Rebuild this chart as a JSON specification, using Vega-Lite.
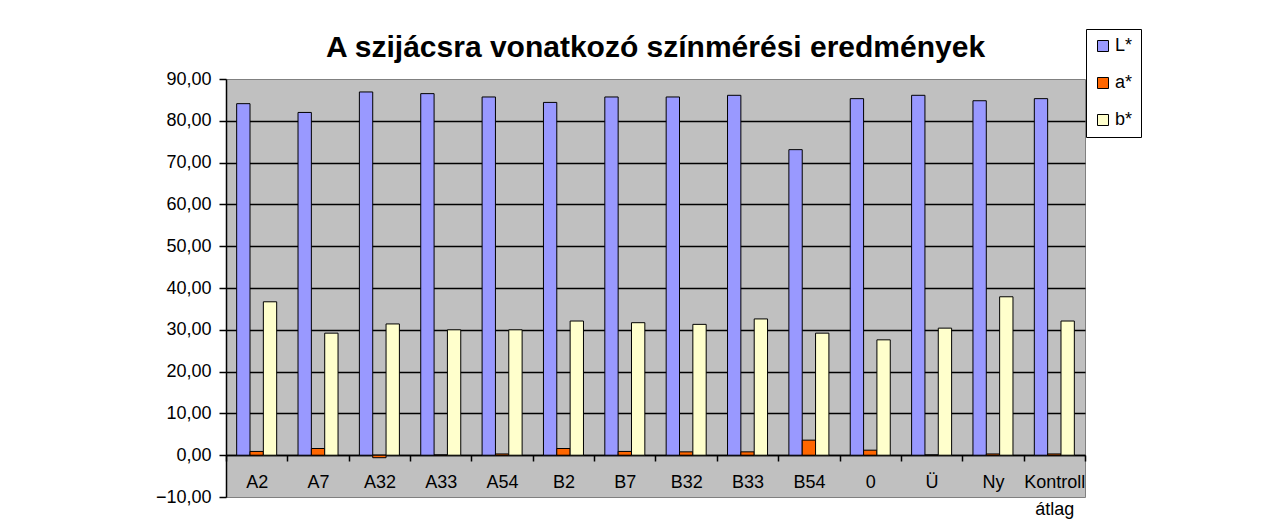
{
  "$schema": "https://vega.github.io/schema/vega-lite/v6.json",
  "width": 859,
  "height": 418,
  "autosize": {"type": "none"},
  "padding": {"left": 226, "top": 79, "right": 197, "bottom": 30},
  "background": "white",
  "title": {
    "text": "A szijácsra vonatkozó színmérési eredmények",
    "font": "Liberation Sans",
    "fontSize": 30,
    "fontWeight": "bold",
    "anchor": "middle",
    "frame": "group",
    "offset": 14,
    "dy": 48,
    "color": "#000000"
  },
  "data": {
    "values": [
      {"cat": "A2", "series": "L*", "value": 84.1},
      {"cat": "A7", "series": "L*", "value": 82.0},
      {"cat": "A32", "series": "L*", "value": 86.9},
      {"cat": "A33", "series": "L*", "value": 86.5},
      {"cat": "A54", "series": "L*", "value": 85.7},
      {"cat": "B2", "series": "L*", "value": 84.4},
      {"cat": "B7", "series": "L*", "value": 85.7},
      {"cat": "B32", "series": "L*", "value": 85.7},
      {"cat": "B33", "series": "L*", "value": 86.1},
      {"cat": "B54", "series": "L*", "value": 73.1},
      {"cat": "0", "series": "L*", "value": 85.3},
      {"cat": "Ü", "series": "L*", "value": 86.1},
      {"cat": "Ny", "series": "L*", "value": 84.8},
      {"cat": "Kontroll átlag", "series": "L*", "value": 85.3},
      {"cat": "A2", "series": "a*", "value": 0.9},
      {"cat": "A7", "series": "a*", "value": 1.6},
      {"cat": "A32", "series": "a*", "value": -0.6},
      {"cat": "A33", "series": "a*", "value": 0.05},
      {"cat": "A54", "series": "a*", "value": 0.3},
      {"cat": "B2", "series": "a*", "value": 1.6},
      {"cat": "B7", "series": "a*", "value": 0.9},
      {"cat": "B32", "series": "a*", "value": 0.8},
      {"cat": "B33", "series": "a*", "value": 0.8},
      {"cat": "B54", "series": "a*", "value": 3.6},
      {"cat": "0", "series": "a*", "value": 1.2},
      {"cat": "Ü", "series": "a*", "value": 0.05},
      {"cat": "Ny", "series": "a*", "value": 0.3},
      {"cat": "Kontroll átlag", "series": "a*", "value": 0.3},
      {"cat": "A2", "series": "b*", "value": 36.7},
      {"cat": "A7", "series": "b*", "value": 29.2},
      {"cat": "A32", "series": "b*", "value": 31.4},
      {"cat": "A33", "series": "b*", "value": 30.0},
      {"cat": "A54", "series": "b*", "value": 30.0},
      {"cat": "B2", "series": "b*", "value": 32.1},
      {"cat": "B7", "series": "b*", "value": 31.7},
      {"cat": "B32", "series": "b*", "value": 31.3},
      {"cat": "B33", "series": "b*", "value": 32.6},
      {"cat": "B54", "series": "b*", "value": 29.2},
      {"cat": "0", "series": "b*", "value": 27.6},
      {"cat": "Ü", "series": "b*", "value": 30.4},
      {"cat": "Ny", "series": "b*", "value": 37.9},
      {"cat": "Kontroll átlag", "series": "b*", "value": 32.1}
    ]
  },
  "mark": {"type": "bar", "stroke": "#000000", "strokeWidth": 1},
  "encoding": {
    "x": {
      "field": "cat",
      "type": "nominal",
      "sort": ["A2", "A7", "A32", "A33", "A54", "B2", "B7", "B32", "B33", "B54", "0", "Ü", "Ny", "Kontroll átlag"],
      "scale": {"paddingInner": 0, "paddingOuter": 0},
      "axis": {
        "title": null,
        "orient": "bottom",
        "offset": -42,
        "labelAngle": 0,
        "labelFontSize": 18,
        "labelColor": "#000000",
        "labelPadding": 12,
        "labelLineHeight": 27,
        "labelExpr": "datum.value == 'Kontroll átlag' ? ['Kontroll', 'átlag'] : datum.value",
        "tickBand": "extent",
        "tickSize": 6,
        "tickColor": "#000000",
        "tickWidth": 1.5,
        "domainColor": "#000000",
        "domainWidth": 1.5,
        "grid": false
      }
    },
    "xOffset": {
      "field": "series",
      "sort": ["L*", "a*", "b*"],
      "scale": {"paddingOuter": 0.8, "paddingInner": 0}
    },
    "y": {
      "field": "value",
      "type": "quantitative",
      "scale": {"domain": [-10, 90], "nice": false, "zero": false},
      "axis": {
        "title": null,
        "values": [-10, 0, 10, 20, 30, 40, 50, 60, 70, 80, 90],
        "labelExpr": "replace(format(datum.value, '.2f'), '.', ',')",
        "labelFontSize": 18,
        "labelColor": "#000000",
        "labelPadding": 8,
        "tickSize": 7,
        "tickColor": "#000000",
        "tickWidth": 1.5,
        "domainColor": "#000000",
        "domainWidth": 1.5,
        "grid": true,
        "gridColor": {"condition": {"test": "datum.value >= 90 || datum.value <= -10", "value": "transparent"}, "value": "#000000"},
        "gridWidth": 1.3,
        "gridOpacity": 1
      }
    },
    "color": {
      "field": "series",
      "type": "nominal",
      "scale": {"domain": ["L*", "a*", "b*"], "range": ["#9999FF", "#FF6600", "#FFFFCC"]},
      "legend": {
        "title": null,
        "orient": "none",
        "legendX": 860,
        "legendY": -50,
        "fillColor": "#FFFFFF",
        "strokeColor": "#000000",
        "padding": 8,
        "rowPadding": 19,
        "symbolType": "square",
        "symbolSize": 121,
        "symbolStrokeColor": "#000000",
        "symbolStrokeWidth": 1,
        "labelFontSize": 18,
        "labelColor": "#000000",
        "labelOffset": 3
      }
    }
  },
  "config": {
    "font": "Liberation Sans",
    "view": {"fill": "#C0C0C0", "stroke": "#808080", "strokeWidth": 1}
  }
}
